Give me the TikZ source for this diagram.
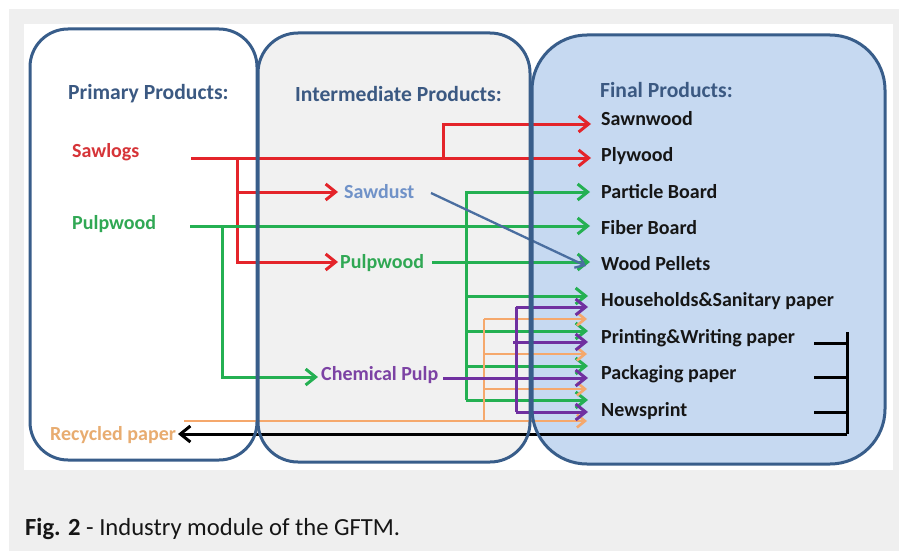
\documentclass[tikz,border=0pt]{standalone}
\usepackage{fontspec}
\setmainfont{Carlito}
\usetikzlibrary{arrows.meta}

\definecolor{framegray}{RGB}{239,239,239}
\definecolor{boxline}{RGB}{56,93,138}
\definecolor{midfill}{RGB}{241,241,241}
\definecolor{finalfill}{RGB}{198,217,241}
\definecolor{headtxt}{RGB}{59,89,130}
\definecolor{cred}{RGB}{228,36,42}
\definecolor{redtxt}{RGB}{214,52,56}
\definecolor{cgreen}{RGB}{36,176,82}
\definecolor{greentxt}{RGB}{48,168,84}
\definecolor{cpurple}{RGB}{112,48,160}
\definecolor{purpletxt}{RGB}{124,66,164}
\definecolor{corange}{RGB}{245,168,108}
\definecolor{orangetxt}{RGB}{232,172,112}
\definecolor{cblue}{RGB}{74,110,160}
\definecolor{dusttxt}{RGB}{112,146,200}
\definecolor{darktxt}{RGB}{22,22,22}

\tikzset{
  lbl/.style={font=\bfseries\fontsize{20}{24}\selectfont, inner sep=0pt, anchor=base west},
  head/.style={lbl, font=\bfseries\fontsize{21.6}{26}\selectfont, text=headtxt},
  final/.style={lbl, text=darktxt},
  boxborder/.style={draw=boxline, line width=3pt},
  flow/.style={line width=3pt, -{Straight Barb[length=10pt,width=16pt]}},
  rail/.style={line width=3pt},
  redflow/.style={flow, draw=cred},
  greenflow/.style={flow, draw=cgreen},
  purpleflow/.style={flow, draw=cpurple},
  orangeflow/.style={line width=2.6pt, draw=corange, -{Straight Barb[length=8pt,width=13pt]}},
  blueflow/.style={line width=2.3pt, draw=cblue, -{Straight Barb[length=8pt,width=13pt]}},
  blackflow/.style={line width=3pt, draw=black, -{Straight Barb[length=10pt,width=16pt]}},
}

\begin{document}
\begin{tikzpicture}[x=1pt,y=-1pt]
\useasboundingbox (0,0) rectangle (899,551);

% page, frame and panel
\fill[white] (0,0) rectangle (899,551);
\fill[framegray] (9,9) rectangle (899,551);
\fill[white] (24,24) rectangle (893,470);

% the three columns (fills)
\fill[white, rounded corners=38pt] (30,29) rectangle (257,460);
\fill[midfill, rounded corners=40pt] (258,33) rectangle (530,462);
\fill[finalfill, rounded corners=55pt] (532,35) rectangle (885,464);

% headings
\node[head] (hPrim) at (68,99) {Primary Products:};
\node[head] (hInt) at (295,101) {Intermediate Products:};
\node[head] (hFin) at (600,97) {Final Products:};

% primary products
\node[lbl, text=redtxt] (sawlogs) at (72,157) {Sawlogs};
\node[lbl, text=greentxt] (pulpP) at (72,229) {Pulpwood};
\node[lbl, text=orangetxt] (recycled) at (50,440) {Recycled paper};

% intermediate products
\node[lbl, text=dusttxt] (sawdust) at (344,198) {Sawdust};
\node[lbl, text=greentxt] (pulpI) at (340,268) {Pulpwood};
\node[lbl, text=purpletxt] (chem) at (321,380) {Chemical Pulp};

% final products
\node[final] (sawn) at (601,125) {Sawnwood};
\node[final] (ply) at (601,161) {Plywood};
\node[final] (part) at (601,198) {Particle Board};
\node[final] (fib) at (601,234) {Fiber Board};
\node[final] (pel) at (601,270) {Wood Pellets};
\node[final] (hh) at (601,306) {Households\&Sanitary paper};
\node[final] (pw) at (601,343) {Printing\&Writing paper};
\node[final] (pk) at (601,379) {Packaging paper};
\node[final] (nw) at (601,416) {Newsprint};

% connector end points
\coordinate (sawOut) at (191,158);
\coordinate (sawDown) at (237,158);
\coordinate (sawUp) at (443,158);
\coordinate (sawnIn) at (591,124);
\coordinate (plyIn) at (591,158);
\coordinate (dustIn) at (338,192);
\coordinate (pulpIIn) at (338,262);

\coordinate (pulpOut) at (190,226);
\coordinate (pulpDown) at (222,226);
\coordinate (fibIn) at (590,226);
\coordinate (chemIn) at (318,377);
\coordinate (pulpIOut) at (432,262);
\coordinate (pelIn) at (590,262);
\coordinate (greenBot) at (466,400);
\coordinate (partIn) at (590,192);
\coordinate (hhG) at (588,296);
\coordinate (pwG) at (588,331);
\coordinate (pkG) at (588,366);
\coordinate (nwG) at (588,400);

\coordinate (chemOut) at (443,378);
\coordinate (purpleTop) at (516,307);
\coordinate (purpleBot) at (516,412);
\coordinate (hhP) at (588,307);
\coordinate (pwP) at (588,342);
\coordinate (pkP) at (588,378);
\coordinate (nwP) at (588,412);

\coordinate (recOut) at (184,421);
\coordinate (orangeTop) at (484,319);
\coordinate (hhO) at (587,319);
\coordinate (pwO) at (587,354);
\coordinate (pkO) at (587,389);
\coordinate (endO) at (587,421);

\coordinate (dustOut) at (431,193);
\coordinate (pelBlue) at (586,266);

\coordinate (backTop) at (847,332);
\coordinate (backBot) at (847,434);
\coordinate (pwBack) at (814,343);
\coordinate (pkBack) at (814,377);
\coordinate (nwBack) at (814,412);
\coordinate (recIn) at (178,434);

% sawlogs
\draw[redflow] (sawOut) -- (plyIn);
\draw[redflow] (sawUp) |- (sawnIn);
\draw[redflow] (sawDown) |- (dustIn);
\draw[redflow] (sawDown) |- (pulpIIn);

% pulpwood
\draw[greenflow] (pulpOut) -- (fibIn);
\draw[greenflow] (pulpDown) |- (chemIn);
\draw[greenflow] (pulpIOut) -- (pelIn);
\draw[greenflow] (greenBot) |- (partIn);
\draw[greenflow] (greenBot |- hhG) -- (hhG);
\draw[greenflow] (greenBot |- pwG) -- (pwG);
\draw[greenflow] (greenBot |- pkG) -- (pkG);
\draw[greenflow] (greenBot) -- (nwG);

% recycled paper
\draw[orangeflow] (recOut) -- (endO);
\draw[line width=2.6pt, draw=corange] (orangeTop) -- (orangeTop |- recOut);
\draw[orangeflow] (orangeTop) -- (hhO);
\draw[orangeflow] (orangeTop |- pwO) -- (pwO);
\draw[orangeflow] (orangeTop |- pkO) -- (pkO);

% chemical pulp
\draw[purpleflow] (chemOut) -- (pkP);
\draw[rail, draw=cpurple] (purpleTop) -- (purpleBot);
\draw[purpleflow] (purpleTop) -- (hhP);
\draw[purpleflow] ([xshift=-3pt]purpleTop |- pwP) -- (pwP);
\draw[purpleflow] (purpleBot) -- (nwP);

% sawdust
\draw[blueflow] (dustOut) -- (pelBlue);

% paper returning as recycled paper
\draw[rail, draw=black] (backTop) -- (backBot);
\draw[rail, draw=black] (pwBack) -- (pwBack -| backTop);
\draw[rail, draw=black] (pkBack) -- (pkBack -| backTop);
\draw[rail, draw=black] (nwBack) -- (nwBack -| backTop);
\draw[blackflow] (backBot) -- (recIn);

% column borders
\draw[boxborder, rounded corners=38pt] (30,29) rectangle (257,460);
\draw[boxborder, rounded corners=40pt] (258,33) rectangle (530,462);
\draw[boxborder, rounded corners=55pt] (532,35) rectangle (885,464);

% caption
\node[inner sep=0pt, anchor=base west, text=darktxt, font=\fontsize{24.6}{29}\selectfont] (caption) at (25,535) {\textbf{Fig. 2} - Industry module of the GFTM.};
\end{tikzpicture}
\end{document}
